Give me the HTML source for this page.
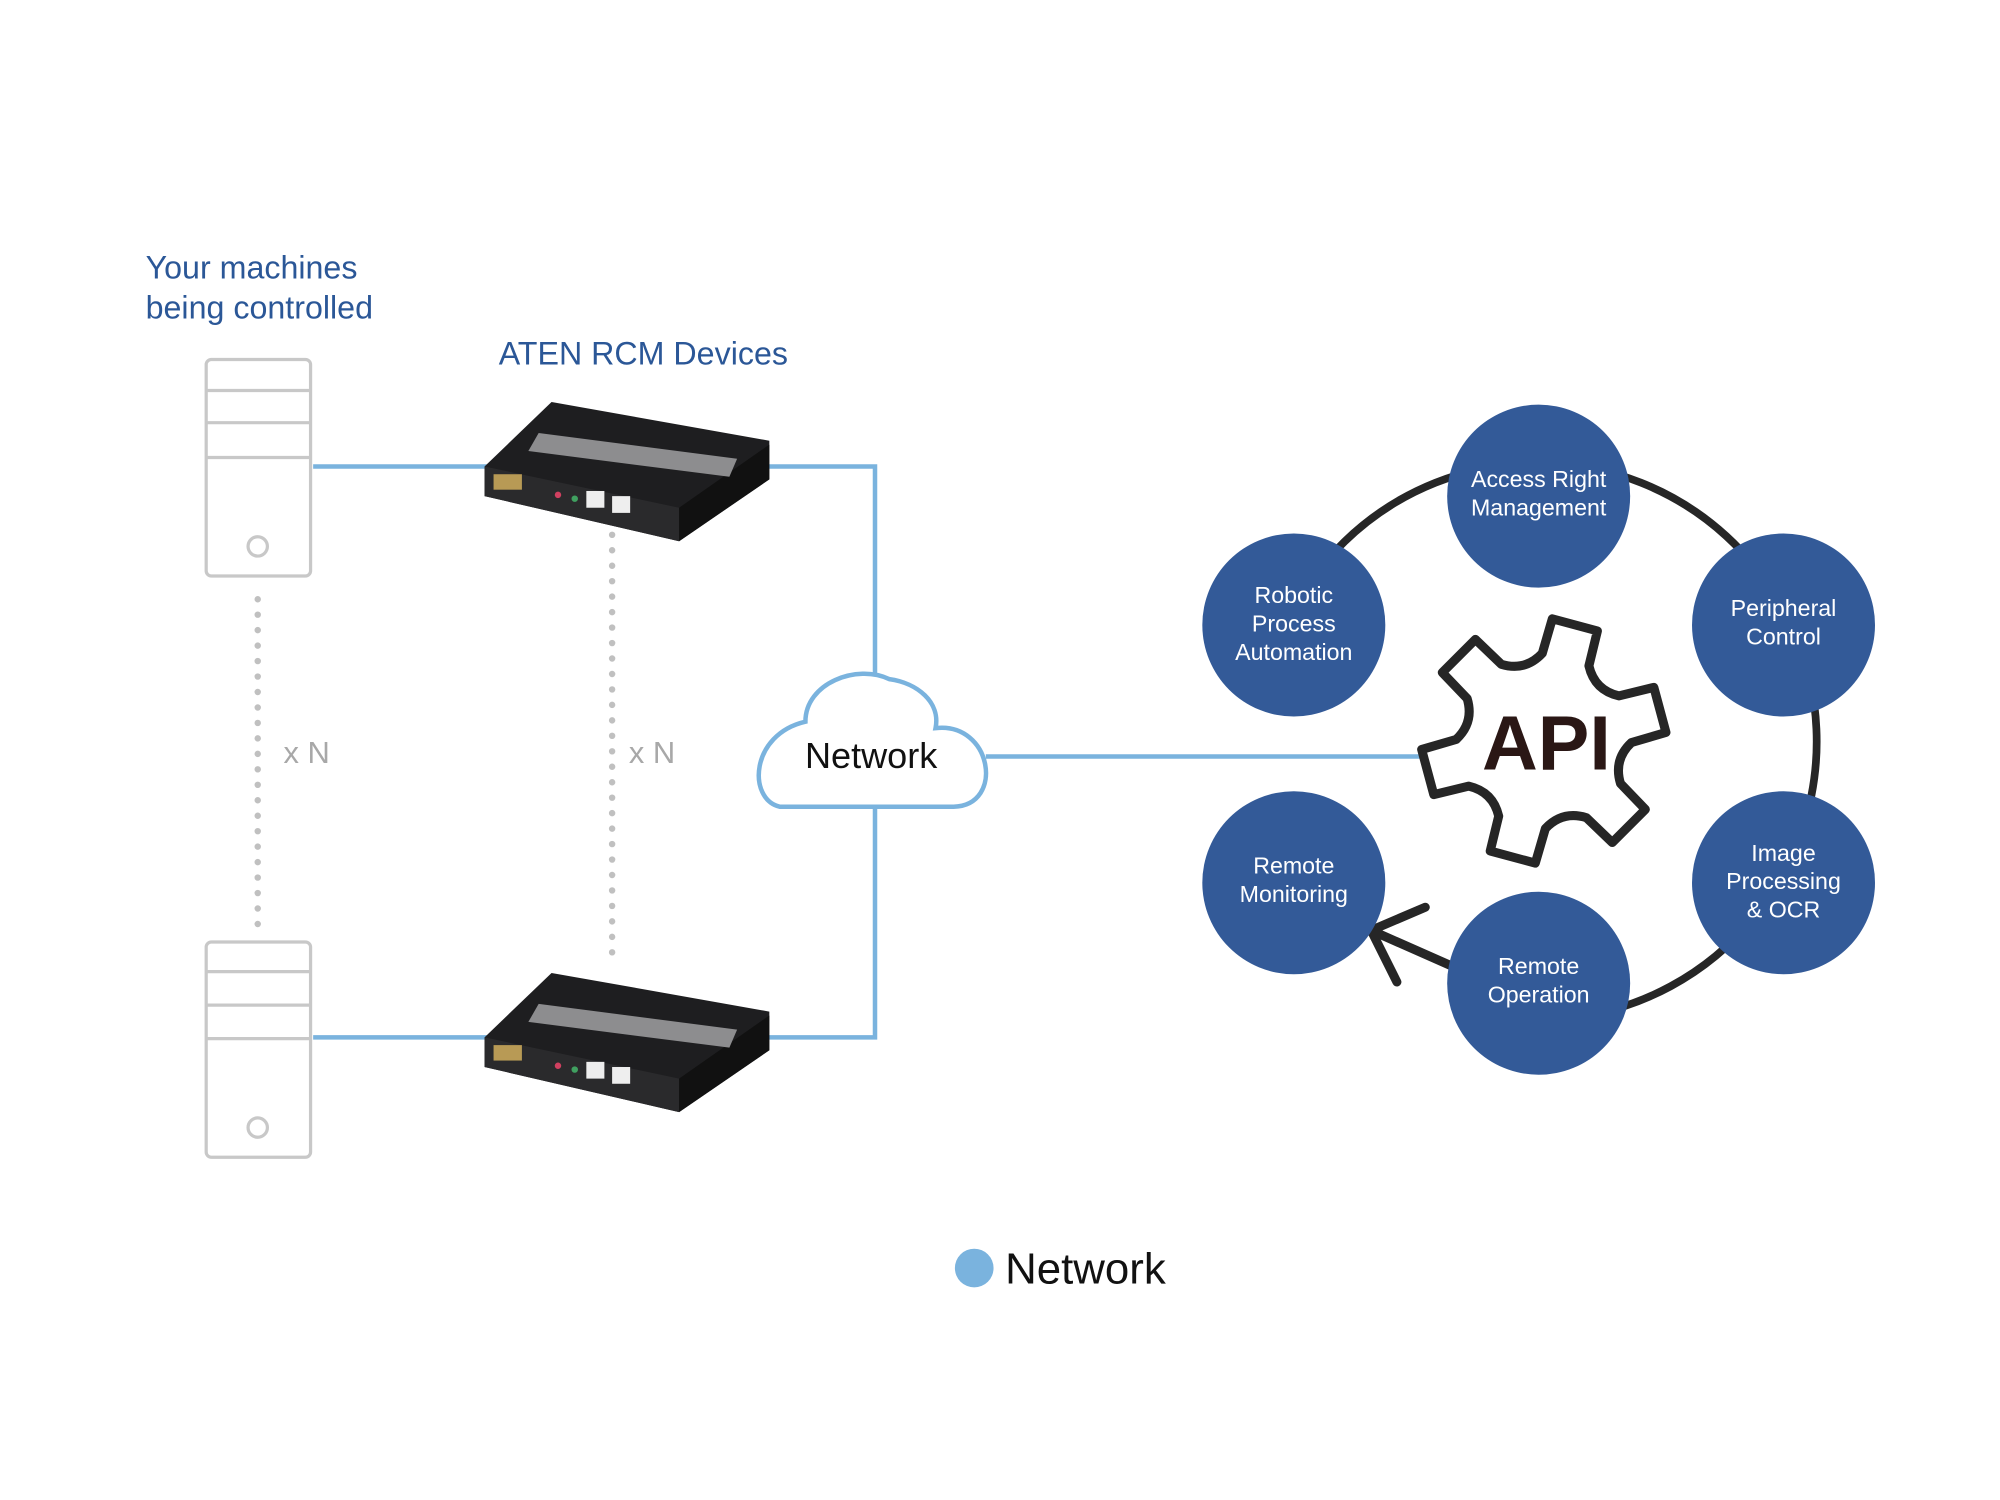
<!DOCTYPE html>
<html><head><meta charset="utf-8"><style>
html,body{margin:0;padding:0;background:#fff}
svg{display:block}
text{font-family:"Liberation Sans",sans-serif}
</style></head><body>
<svg width="2000" height="1500" viewBox="0 0 1552 1164" xmlns="http://www.w3.org/2000/svg">
<rect width="1552" height="1164" fill="#fff"/>
<g fill="#2b5797" font-size="25">
<text x="113" y="216">Your machines</text>
<text x="113" y="247">being controlled</text>
<text x="387" y="283">ATEN RCM Devices</text>
</g>
<g fill="none" stroke="#c8c8c8" stroke-width="2.5">
<rect x="160" y="279" width="81" height="168" rx="4"/>
<line x1="160" y1="303" x2="241" y2="303"/><line x1="160" y1="328" x2="241" y2="328"/><line x1="160" y1="355" x2="241" y2="355"/>
<circle cx="200" cy="424" r="7.5"/>
<rect x="160" y="731" width="81" height="167" rx="4"/>
<line x1="160" y1="754" x2="241" y2="754"/><line x1="160" y1="780" x2="241" y2="780"/><line x1="160" y1="806" x2="241" y2="806"/>
<circle cx="200" cy="875" r="7.5"/>
</g>
<g stroke="#c0c0c0" stroke-width="5" stroke-linecap="round" stroke-dasharray="0 12">
<line x1="200" y1="465" x2="200" y2="720"/>
<line x1="475" y1="415" x2="475" y2="745"/>
</g>
<g fill="#a8a8a8" font-size="24"><text x="220" y="592">x N</text><text x="488" y="592">x N</text></g>
<g stroke="#7ab3de" stroke-width="3.5" fill="none">
<line x1="243" y1="362" x2="380" y2="362"/>
<line x1="243" y1="805" x2="380" y2="805"/>
<polyline points="596,362 679,362 679,528"/>
<polyline points="596,805 679,805 679,625"/>
<line x1="765" y1="587" x2="1108" y2="587"/>
</g>
<g id="dev">
<polygon points="376,362 428,312 597,342 597,372 527,420 376,385" fill="#1e1e20"/>
<polygon points="376,362 527,394 527,420 376,385" fill="#2a2a2c"/>
<polygon points="527,394 597,345 597,372 527,420" fill="#111"/>
<polygon points="410,350 418,336 572,356 566,370" fill="#8d8d8f"/>
<rect x="383" y="368" width="22" height="12" fill="#b89a55"/>
<rect x="455" y="381" width="14" height="13" fill="#eee"/><rect x="475" y="385" width="14" height="13" fill="#eee"/>
<circle cx="433" cy="384" r="2.5" fill="#d04060"/><circle cx="446" cy="387" r="2.5" fill="#40a060"/>
</g>
<use href="#dev" transform="translate(0,443)"/>
<path d="M605,626 C580,620 582,570 625,560 C625,530 665,515 690,527 C712,530 730,545 726,565 C770,560 780,625 740,626 Z" fill="#fff" stroke="#7ab3de" stroke-width="3.5"/>
<text x="676" y="596" font-size="28" text-anchor="middle" fill="#111">Network</text>
<path d="M998,484 A216,216 0 1 1 1138,784" fill="none" stroke="#262626" stroke-width="6"/>
<g fill="none" stroke="#262626" stroke-width="7" stroke-linecap="round" stroke-linejoin="round">
<polyline points="1106,704 1064,722 1084,762"/>
<line x1="1064" y1="722" x2="1150" y2="760"/>
</g>
<path id="gear" fill="#fff" stroke="#262626" stroke-width="7" stroke-linejoin="round"/>
<text x="1200" y="597" font-size="60" font-weight="bold" text-anchor="middle" fill="#2a1715">API</text>
<g fill="#335a98">
<circle cx="1194" cy="385" r="71"/><circle cx="1004" cy="485" r="71"/><circle cx="1384" cy="485" r="71"/>
<circle cx="1384" cy="685" r="71"/><circle cx="1194" cy="763" r="71"/><circle cx="1004" cy="685" r="71"/>
</g>
<g fill="#fff" font-size="18" text-anchor="middle">
<text x="1194" y="378">Access Right</text><text x="1194" y="400">Management</text>
<text x="1004" y="468">Robotic</text><text x="1004" y="490">Process</text><text x="1004" y="512">Automation</text>
<text x="1384" y="478">Peripheral</text><text x="1384" y="500">Control</text>
<text x="1384" y="668">Image</text><text x="1384" y="690">Processing</text><text x="1384" y="712">&amp; OCR</text>
<text x="1194" y="756">Remote</text><text x="1194" y="778">Operation</text>
<text x="1004" y="678">Remote</text><text x="1004" y="700">Monitoring</text>
</g>
<circle cx="756" cy="984" r="15" fill="#7ab3de"/>
<text x="780" y="996" font-size="34" fill="#111">Network</text>
</svg>
<script>
(function(){var cx=1198,cy=575,R=95,r=68,off=-75,d="";
for(var i=0;i<6;i++){var a=off+i*60;
function p(ang,rad){var t=ang*Math.PI/180;return (cx+rad*Math.cos(t)).toFixed(1)+","+(cy+rad*Math.sin(t)).toFixed(1);}
d+=(i==0?"M":"L")+p(a-16,r)+" L"+p(a-11,R)+" L"+p(a+11,R)+" L"+p(a+16,r)+" Q"+p(a+30,r*0.82)+" "+p(a+44,r)+" ";}
document.getElementById("gear").setAttribute("d",d+"Z");})();
</script>
</body></html>
